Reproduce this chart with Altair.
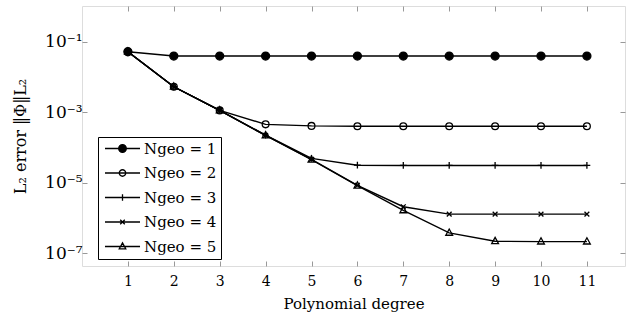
import altair as alt
import pandas as pd

degrees = [1, 2, 3, 4, 5, 6, 7, 8, 9, 10, 11]
err_n1 = [0.052, 0.0393, 0.0393, 0.0393, 0.0393, 0.0393, 0.0393, 0.0393, 0.0393, 0.0393, 0.0393]
err_n2 = [0.052, 5.28e-3, 1.13e-3, 4.54e-4, 4.1e-4, 4.0e-4, 4.0e-4, 4.0e-4, 4.0e-4, 4.0e-4, 4.0e-4]
err_n3 = [0.052, 5.28e-3, 1.13e-3, 2.25e-4, 4.9e-5, 3.15e-5, 3.1e-5, 3.1e-5, 3.1e-5, 3.1e-5, 3.1e-5]
err_n4 = [0.052, 5.28e-3, 1.13e-3, 2.2e-4, 4.6e-5, 8.5e-6, 2.09e-6, 1.29e-6, 1.29e-6, 1.29e-6, 1.29e-6]
err_n5 = [0.052, 5.28e-3, 1.13e-3, 2.2e-4, 4.5e-5, 8.3e-6, 1.65e-6, 3.8e-7, 2.2e-7, 2.15e-7, 2.15e-7]

series_labels = ["Ngeo = 1", "Ngeo = 2", "Ngeo = 3", "Ngeo = 4", "Ngeo = 5"]
series_errs = [err_n1, err_n2, err_n3, err_n4, err_n5]

ytick_values = [1e-1, 1e-3, 1e-5, 1e-7]
ytick_labels = ["10⁻¹", "10⁻³", "10⁻⁵", "10⁻⁷"]

rows = []
for lab, errs in zip(series_labels, series_errs):
    for d, e in zip(degrees, errs):
        rows.append({"degree": d, "err": e, "series": lab})
df = pd.DataFrame(rows)

FONT = "DejaVu Serif"

# marker shapes (unit box paths)
circ = "M-1,0A1,1,0,1,0,1,0A1,1,0,1,0,-1,0Z"
ocirc = "M-0.85,0A0.85,0.85,0,1,0,0.85,0A0.85,0.85,0,1,0,-0.85,0Z"
plus = "M-0.85,0L0.85,0M0,-0.85L0,0.85"
cross = "M-0.6,-0.6L0.6,0.6M-0.6,0.6L0.6,-0.6"
tri = "M0,-0.95L0.85,0.6L-0.85,0.6Z"
marker_paths = [circ, ocirc, plus, cross, tri]
line_seg = "M-4.6,0L4.6,0"
legend_paths = [line_seg + p for p in marker_paths]
fills = ["black", "transparent", "transparent", "transparent", "transparent"]
strokes = ["black"] * 5

x_scale = alt.Scale(domain=[0, 11.83], nice=False, zero=False)
y_scale = alt.Scale(type="log", domain=[10 ** -7.36, 10 ** 0.013], nice=False)

label_expr = "{}[indexof({}, datum.value)]".format(
    "[" + ",".join("'" + s + "'" for s in ytick_labels) + "]",
    "[" + ",".join(repr(v) for v in ytick_values) + "]",
)

x_main = alt.Axis(values=degrees, title="Polynomial degree", labelFont=FONT, labelFontSize=14,
                  titleFont=FONT, titleFontSize=15, titleFontWeight="normal",
                  labelColor="black", titleColor="black", domain=False,
                  tickColor="#999999", tickSize=alt.ExprRef(expr="-5"), labelPadding=13,
                  titlePadding=8, grid=False, labelAngle=0)
y_main = alt.Axis(values=ytick_values, labelExpr=label_expr, title="L₂ error ‖Φ‖L₂",
                  labelFont=FONT, labelFontSize=17, titleFont=FONT, titleFontSize=16,
                  titleFontWeight="normal", labelColor="black", titleColor="black",
                  domain=False, tickColor="#999999", tickSize=alt.ExprRef(expr="-5"),
                  labelPadding=5, titlePadding=16, grid=False)
x_top = alt.Axis(values=degrees, orient="top", labels=False, title=None, domain=False,
                 tickColor="#999999", tickSize=alt.ExprRef(expr="-5"), grid=False)
y_right = alt.Axis(values=ytick_values, orient="right", labels=False, title=None, domain=False,
                   tickColor="#999999", tickSize=alt.ExprRef(expr="-5"), grid=False)

lines = alt.Chart(df).mark_line(color="black", strokeWidth=1.4).encode(
    x=alt.X("degree:Q", scale=x_scale, axis=x_main),
    y=alt.Y("err:Q", scale=y_scale, axis=y_main),
    detail="series:N",
)

points = alt.Chart(df).mark_point(filled=True, stroke="black", strokeWidth=1.3, size=64, opacity=1).encode(
    x=alt.X("degree:Q", scale=x_scale, axis=x_top),
    y=alt.Y("err:Q", scale=y_scale, axis=y_right),
    shape=alt.Shape("series:N", scale=alt.Scale(domain=series_labels, range=marker_paths), legend=None),
    fill=alt.Fill("series:N", scale=alt.Scale(domain=series_labels, range=fills), legend=None),
)

legend = alt.Legend(
    title=None, orient="none", legendX=16, legendY=131, strokeColor="black", fillColor="white",
    padding=4, labelFont=FONT, labelFontSize=15, labelColor="black", symbolOffset=13,
    labelOffset=14, rowPadding=8.5, symbolSize=58, symbolStrokeColor="black",
    symbolStrokeWidth=1.3, symbolOpacity=1, labelLimit=200,
)

leg_layer = alt.Chart(df).mark_point(filled=True, size=58, opacity=0).encode(
    x=alt.X("degree:Q", scale=x_scale, axis=None),
    y=alt.Y("err:Q", scale=y_scale, axis=None),
    shape=alt.Shape("series:N", scale=alt.Scale(domain=series_labels, range=legend_paths), legend=legend),
    fill=alt.Fill("series:N", scale=alt.Scale(domain=series_labels, range=fills), legend=legend),
    stroke=alt.Stroke("series:N", scale=alt.Scale(domain=series_labels, range=strokes), legend=legend),
)

chart = alt.layer(lines, points, leg_layer).resolve_scale(
    shape="independent", fill="independent", stroke="independent"
).resolve_axis(x="independent", y="independent").properties(
    width=543, height=260,
    autosize=alt.AutoSizeParams(type="none"),
    padding={"left": 82, "top": 6, "right": 1, "bottom": 55},
).configure_view(stroke="black", strokeWidth=1).configure(background="white")

chart.save("out.html", embed_options={"renderer": "svg", "actions": False})
